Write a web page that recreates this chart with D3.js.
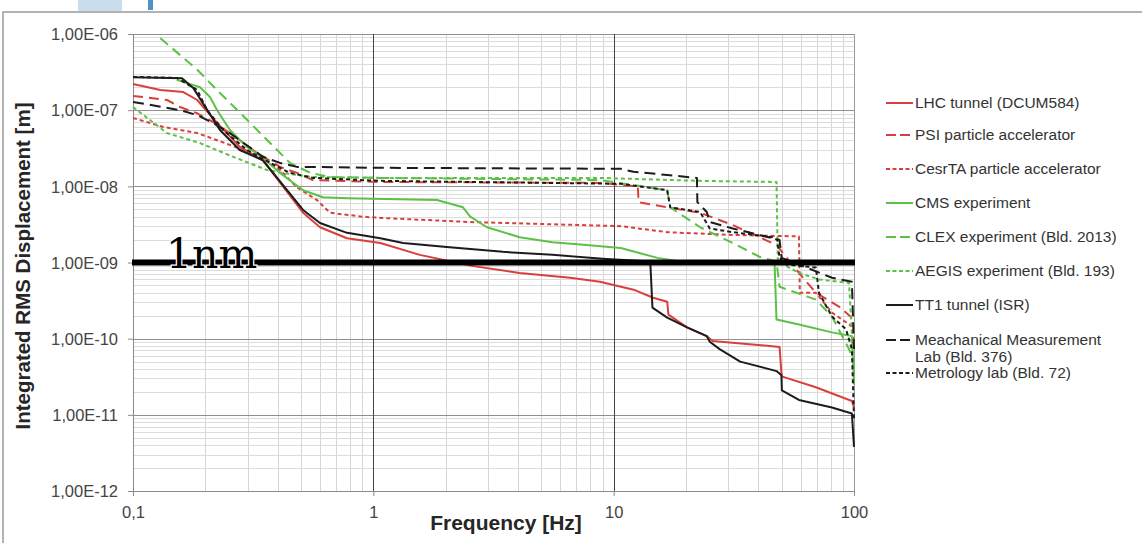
<!DOCTYPE html>
<html>
<head>
<meta charset="utf-8">
<script src="https://cdn.jsdelivr.net/npm/d3@7"></script>
<style>
  body { margin: 0; background: #fff; }
  svg { display: block; font-family: "Liberation Sans", Arial, sans-serif; }
</style>
</head>
<body>
<div id="chart"></div>
<script>
// axis ticks
const freqTicks = [0.1, 1, 10, 100];
const freqLabels = ["0,1", "1", "10", "100"];
const dispTicks = [1e-6, 1e-7, 1e-8, 1e-9, 1e-10, 1e-11, 1e-12];
const dispLabels = ["1,00E-06", "1,00E-07", "1,00E-08", "1,00E-09", "1,00E-10", "1,00E-11", "1,00E-12"];

// series, [frequency Hz, integrated RMS displacement m]
const lhcTunnel = [[0.1, 2.2e-7], [0.13, 1.84e-7], [0.162, 1.73e-7], [0.185, 1.36e-7], [0.224, 6.8e-8], [0.278, 3.3e-8],
  [0.347, 2.2e-8], [0.51, 4.5e-9], [0.6, 2.9e-9], [0.777, 2.08e-9], [1.07, 1.8e-9], [1.56, 1.26e-9], [2.53, 9.1e-10],
  [4.06, 7.3e-10], [6.6, 6.3e-10], [8.77, 5.6e-10], [12.1, 4.4e-10], [14.6, 3.45e-10], [16.7, 3.06e-10], [16.9, 2.07e-10],
  [20.2, 1.41e-10], [24.4, 1.08e-10], [25.8, 9.3e-11], [49, 7.8e-11], [50, 3.2e-11], [69.4, 2.3e-11], [98, 1.52e-11], [100, 1.25e-11]];
const psi = [[0.1, 1.54e-7], [0.1385, 1.36e-7], [0.157, 1.1e-7], [0.185, 9.1e-8], [0.215, 7.0e-8], [0.253, 5e-8], [0.328, 2.75e-8],
  [0.409, 1.8e-8], [0.481, 1.5e-8], [0.56, 1.21e-8], [1.07, 1.14e-8], [8.77, 1.11e-8], [12.6, 1.0e-8], [12.7, 6.2e-9],
  [16.7, 5.3e-9], [22.9, 4.5e-9], [31.3, 3.1e-9], [47.6, 1.7e-9], [59, 7.3e-10], [69.4, 4e-10], [86.6, 2.64e-10], [100, 1.78e-10]];
const cesrTA = [[0.1, 7.9e-8], [0.133, 6.05e-8], [0.185, 5e-8], [0.253, 3.5e-8], [0.347, 2.37e-8], [0.409, 1.64e-8], [0.481, 9.7e-9],
  [0.583, 6.6e-9], [0.66, 4.5e-9], [0.9, 4e-9], [1.07, 3.85e-9], [2.53, 3.4e-9], [10.7, 3e-9], [16.7, 2.5e-9], [31.3, 2.3e-9],
  [59, 2.2e-9], [59.5, 4e-10], [69.4, 4e-10], [81, 2.2e-10], [98, 1.45e-10], [100, 8.5e-11]];
const cms = [[0.152, 2.5e-7], [0.19, 2.0e-7], [0.209, 1.49e-7], [0.224, 1.0e-7], [0.253, 5.5e-8], [0.298, 3.3e-8], [0.347, 2.37e-8],
  [0.409, 1.5e-8], [0.51, 8.9e-9], [0.617, 7.2e-9], [0.777, 7e-9], [1.84, 6.6e-9], [2.36, 5.3e-9], [2.53, 4e-9], [2.97, 2.9e-9],
  [4.06, 2.15e-9], [5.56, 1.85e-9], [7.7, 1.7e-9], [10.7, 1.55e-9], [15.2, 1.15e-9], [18.9, 1.03e-9], [46.7, 1e-9],
  [47.6, 1.78e-10], [59, 1.53e-10], [81, 1.21e-10], [98, 1.08e-10], [100, 2.5e-11]];
const clex = [[0.13, 8.8e-7], [0.185, 3.4e-7], [0.23, 1.68e-7], [0.298, 7.5e-8], [0.372, 3.7e-8], [0.45, 2.03e-8], [0.546, 1.5e-8],
  [0.66, 1.33e-8], [1.07, 1.29e-8], [8.77, 1.21e-8], [16.7, 8.9e-9], [17.2, 5.3e-9], [22.9, 2.9e-9], [31.3, 1.8e-9],
  [40.4, 1.19e-9], [47.6, 1.03e-9], [49, 4.8e-10], [69.4, 3.25e-10], [81, 1.95e-10], [95.3, 7.3e-11], [100, 5e-11]];
const aegis = [[0.1, 1.1e-7], [0.1385, 5e-8], [0.19, 3.7e-8], [0.26, 2.45e-8], [0.361, 1.64e-8], [0.421, 1.5e-8], [0.546, 1.33e-8],
  [1.07, 1.29e-8], [8.77, 1.29e-8], [22.9, 1.18e-8], [47.6, 1.14e-8], [48.2, 1.03e-9], [59, 7.3e-10], [71.5, 6e-10],
  [95.3, 5.4e-10], [100, 3.9e-11]];
const tt1Tunnel = [[0.1, 2.7e-7], [0.16, 2.62e-7], [0.178, 1.96e-7], [0.23, 5.5e-8], [0.278, 3.0e-8], [0.347, 2.2e-8], [0.51, 4.9e-9],
  [0.6, 3.3e-9], [0.777, 2.45e-9], [1.07, 2.08e-9], [1.33, 1.8e-9], [2.02, 1.6e-9], [3.46, 1.38e-9], [5.56, 1.26e-9],
  [9, 1.12e-9], [14.2, 1.03e-9], [14.5, 2.56e-10], [16.7, 1.89e-10], [20.2, 1.41e-10], [24.4, 1.08e-10], [25.1, 9.1e-11],
  [27.6, 7.3e-11], [33.6, 5e-11], [47.6, 3.75e-11], [49.9, 3.3e-11], [50.1, 2.1e-11], [59, 1.57e-11], [81, 1.25e-11],
  [98, 1.04e-11], [100, 3.8e-12]];
const mechLab = [[0.1, 1.28e-7], [0.133, 1.1e-7], [0.157, 1e-7], [0.185, 8.6e-8], [0.215, 6.8e-8], [0.253, 5e-8], [0.347, 2.45e-8],
  [0.409, 2.03e-8], [0.481, 1.8e-8], [0.562, 1.8e-8], [1.07, 1.75e-8], [10.7, 1.7e-8], [12.1, 1.55e-8], [16.7, 1.41e-8],
  [22.2, 1.29e-8], [22.3, 6.2e-9], [24.4, 4.6e-9], [25.1, 3.4e-9], [31.3, 2.8e-9], [45.9, 2.08e-9], [49, 1.97e-9],
  [50, 1.15e-9], [59, 9.4e-10], [81, 6.3e-10], [98, 5.6e-10], [100, 7.3e-11]];
const metrologyLab = [[0.1, 2.73e-7], [0.1525, 2.65e-7], [0.185, 1.84e-7], [0.2034, 1e-7], [0.237, 5.5e-8], [0.298, 3e-8],
  [0.372, 2.03e-8], [0.45, 1.5e-8], [0.562, 1.29e-8], [1.07, 1.18e-8], [10.7, 1.08e-8], [16.7, 8.9e-9], [17.2, 5.3e-9],
  [22.9, 4.6e-9], [25.1, 2.8e-9], [31.3, 2.5e-9], [45.9, 2.15e-9], [48, 1.97e-9], [49, 1.15e-9], [52.3, 9.4e-10],
  [69.4, 8.6e-10], [71.5, 4e-10], [81, 1.95e-10], [92.6, 1.33e-10], [98, 7.3e-11], [100, 9e-12]];

const seriesNames = ["LHC tunnel (DCUM584)", "PSI particle accelerator", "CesrTA particle accelerator", "CMS experiment",
  "CLEX experiment (Bld. 2013)", "AEGIS experiment (Bld. 193)", "TT1 tunnel (ISR)",
  "Meachanical Measurement\nLab (Bld. 376)", "Metrology lab (Bld. 72)"];
const seriesData = [lhcTunnel, psi, cesrTA, cms, clex, aegis, tt1Tunnel, mechLab, metrologyLab];
const seriesColors = ["#d9403c", "#d9403c", "#d9403c", "#5cc247", "#5cc247", "#5cc247", "#1c1c1c", "#1c1c1c", "#1c1c1c"];
const seriesDash = [null, "10,6", "4,3", null, "10,6", "4,3", null, "11,6", "4,3"];

const limitValue = 1e-9;
const limitLabel = "1nm";

const W = 1142, H = 543;
const plot = { left: 133, right: 854, top: 34, bottom: 491 };

const svg = d3.select("#chart").append("svg").attr("width", W).attr("height", H);

// outer frame and leftover logo at the top
svg.append("rect").attr("x", 78).attr("y", 0).attr("width", 44).attr("height", 11).attr("fill", "#c9dded");
svg.append("rect").attr("x", 148).attr("y", 0).attr("width", 5).attr("height", 10).attr("fill", "#4f93c4");
svg.append("path").attr("d", `M3,${H} V12 H${W}`).attr("fill", "none").attr("stroke", "#9a9a9a").attr("stroke-width", 1.5);

const x = d3.scaleLog().domain([0.1, 100]).range([plot.left, plot.right]);
const y = d3.scaleLog().domain([1e-12, 1e-6]).range([plot.bottom, plot.top]);

// grid
const minorF = [];
[0.1, 1, 10].forEach(d => { for (let k = 2; k <= 9; k++) minorF.push(d * k); });
const minorV = [];
[1e-12, 1e-11, 1e-10, 1e-9, 1e-8, 1e-7].forEach(d => { for (let k = 2; k <= 9; k++) minorV.push(d * k); });

const grid = svg.append("g").attr("shape-rendering", "crispEdges");
grid.selectAll(".vminor").data(minorF).enter().append("line")
  .attr("x1", d => Math.round(x(d)) + 0.5).attr("x2", d => Math.round(x(d)) + 0.5)
  .attr("y1", plot.top).attr("y2", plot.bottom).attr("stroke", "#d6d6d6");
grid.selectAll(".hminor").data(minorV).enter().append("line")
  .attr("y1", d => Math.round(y(d)) + 0.5).attr("y2", d => Math.round(y(d)) + 0.5)
  .attr("x1", plot.left).attr("x2", plot.right).attr("stroke", "#dcdcdc");
grid.selectAll(".hmajor").data(dispTicks).enter().append("line")
  .attr("y1", d => Math.round(y(d)) + 0.5).attr("y2", d => Math.round(y(d)) + 0.5)
  .attr("x1", plot.left).attr("x2", plot.right).attr("stroke", "#8f8f8f");
grid.selectAll(".vmajor").data([1, 10]).enter().append("line")
  .attr("x1", d => Math.round(x(d)) + 0.5).attr("x2", d => Math.round(x(d)) + 0.5)
  .attr("y1", plot.top).attr("y2", plot.bottom).attr("stroke", "#444");
grid.append("line").attr("x1", plot.right + 0.5).attr("x2", plot.right + 0.5)
  .attr("y1", plot.top).attr("y2", plot.bottom).attr("stroke", "#9a9a9a");

// axes
const xAxis = svg.append("g").attr("transform", `translate(0,${plot.bottom})`)
  .call(d3.axisBottom(x).tickValues(freqTicks).tickFormat((d, i) => freqLabels[i]).tickSize(5).tickPadding(10));
const yAxis = svg.append("g").attr("transform", `translate(${plot.left},0)`)
  .call(d3.axisLeft(y).tickValues(dispTicks).tickFormat((d, i) => dispLabels[i]).tickSize(5).tickPadding(10));
[xAxis, yAxis].forEach(a => {
  a.select(".domain").attr("stroke", "#8a8a8a");
  a.selectAll(".tick line").attr("stroke", "#8a8a8a");
  a.selectAll("text").attr("fill", "#444").attr("font-size", 16.5)
    .attr("font-family", "'Liberation Sans', Arial, sans-serif");
});
yAxis.selectAll("text").attr("dy", "0.35em");

svg.append("text").attr("x", 506).attr("y", 530).attr("text-anchor", "middle")
  .attr("font-size", 21).attr("font-weight", "bold").attr("fill", "#262626").text("Frequency [Hz]");
svg.append("text").attr("transform", "translate(30,266) rotate(-90)").attr("text-anchor", "middle")
  .attr("font-size", 20.5).attr("font-weight", "bold").attr("fill", "#262626").text("Integrated RMS Displacement [m]");

// series lines
const line = d3.line().x(d => x(d[0])).y(d => y(d[1]));
svg.append("g").selectAll("path").data(seriesData).enter().append("path")
  .attr("d", line)
  .attr("fill", "none")
  .attr("stroke", (d, i) => seriesColors[i])
  .attr("stroke-width", 2)
  .attr("stroke-dasharray", (d, i) => seriesDash[i])
  .attr("stroke-linejoin", "round");

// 1 nm limit
svg.append("line").attr("x1", x(0.1) - 1).attr("x2", x(100) + 1)
  .attr("y1", y(limitValue)).attr("y2", y(limitValue))
  .attr("stroke", "#000").attr("stroke-width", 6);
svg.append("text").attr("x", 166).attr("y", 268)
  .attr("font-family", "'DejaVu Serif', serif").attr("font-size", 41)
  .attr("fill", "#000").attr("stroke", "#fff").attr("stroke-width", 2.5).attr("paint-order", "stroke")
  .text(limitLabel);

// legend
const legendY = [103, 135, 169, 203, 237, 271, 305, 340, 373];
const legend = svg.append("g").selectAll("g").data(seriesNames).enter().append("g")
  .attr("transform", (d, i) => `translate(886,${legendY[i]})`);
legend.append("line").attr("x1", 0).attr("x2", 27).attr("y1", 0).attr("y2", 0)
  .attr("stroke", (d, i) => seriesColors[i]).attr("stroke-width", 2)
  .attr("stroke-dasharray", (d, i) => seriesDash[i] ? (seriesDash[i] === "4,3" ? "4,2.5" : "10,4") : null);
legend.append("text").attr("x", 29).attr("y", 0).attr("dy", "0.35em")
  .attr("font-size", 15.5).attr("fill", "#333")
  .each(function (d) {
    d.split("\n").forEach((t, j) => {
      d3.select(this).append("tspan").attr("x", 29).attr("dy", j === 0 ? "0.35em" : "1.05em").text(t);
    });
  });
</script>
</body>
</html>
